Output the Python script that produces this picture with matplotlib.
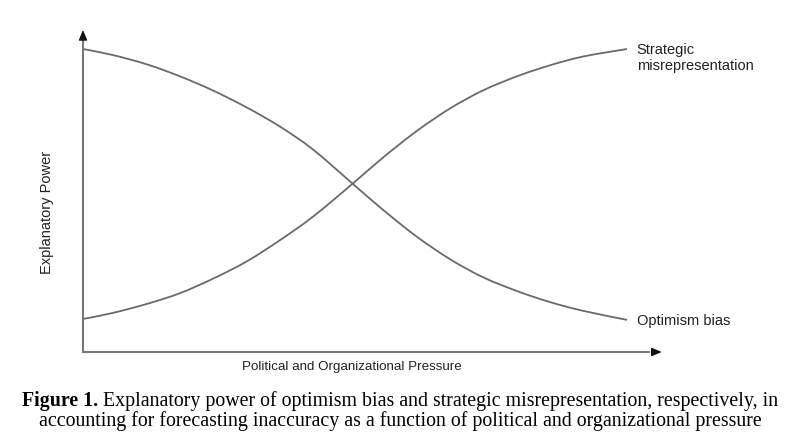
import matplotlib
matplotlib.use("Agg")
from matplotlib import pyplot as plt
from matplotlib.path import Path
from matplotlib.patches import PathPatch

# pressure (0-100) and explanatory power (0-100)
pressure = [0, 5.5, 11.8, 17.8, 23.9, 30.1, 36.2, 42.3, 49.6, 55.1, 61.4, 67.5, 73.5, 79.8, 85.8, 91.9, 100]
optimism_bias = [100, 98.0, 94.9, 91.0, 86.3, 80.7, 74.4, 66.8, 55.5, 47.0, 38.0, 30.6, 24.7, 20.1, 16.5, 13.6, 10.6]
strategic_misrep = [10.9, 12.9, 15.9, 19.4, 24.2, 29.9, 36.9, 44.7, 55.6, 64.1, 73.0, 80.4, 86.3, 91.0, 94.6, 97.5, 100]

line_color = '#6a6a6a'
sans = 'Liberation Sans'
serif = 'Liberation Serif'


def smooth_path(xs, ys):
    # catmull-rom through the points, as cubic bezier segments
    pts = list(zip(xs, ys))
    verts = [pts[0]]
    codes = [Path.MOVETO]
    for i in range(len(pts) - 1):
        p0 = pts[i - 1] if i > 0 else pts[i]
        p1 = pts[i]
        p2 = pts[i + 1]
        p3 = pts[i + 2] if i + 2 < len(pts) else pts[i + 1]
        c1 = (p1[0] + (p2[0] - p0[0]) / 6, p1[1] + (p2[1] - p0[1]) / 6)
        c2 = (p2[0] - (p3[0] - p1[0]) / 6, p2[1] - (p3[1] - p1[1]) / 6)
        verts += [c1, c2, p2]
        codes += [Path.CURVE4] * 3
    return Path(verts, codes)


fig = plt.figure(figsize=(8, 4.4), dpi=100)
# axes box: px 83..783 wide, py 352..10 tall
ax = fig.add_axes([83 / 800, 88 / 440, 700 / 800, 342 / 440])
ax.set_xlim(0, 700 / 5.44)
ax.set_ylim(0, 342 / 3.03)
ax.axis('off')

for ys in (optimism_bias, strategic_misrep):
    ax.add_patch(PathPatch(smooth_path(pressure, ys), fill=False, edgecolor=line_color,
                           lw=1.3, clip_on=False))

# gray axis lines, black arrow heads
ax.plot([0, 104], [0, 0], color='#777777', lw=1.5, clip_on=False)
ax.plot([0, 0], [0, 104], color='#777777', lw=1.5, clip_on=False)
arrow = dict(arrowstyle='-|>,head_length=0.6,head_width=0.25', color='#111111', lw=1.0,
             shrinkA=0, shrinkB=0)
ax.annotate('', xy=(106.4, 0), xytext=(104.5, 0), arrowprops=arrow, annotation_clip=False)
ax.annotate('', xy=(0, 106.3), xytext=(0, 104.5), arrowprops=arrow, annotation_clip=False)

ax.text(101.8, 97, 'Strategic\nmisrepresentation', family=sans, fontsize=10.5,
        color='#222222', va='center', ha='left', linespacing=1.25)
ax.text(101.8, 10.2, 'Optimism bias', family=sans, fontsize=10.5,
        color='#222222', va='center', ha='left')

fig.text(352 / 800, 1 - 367 / 440, 'Political and Organizational Pressure', family=sans,
         fontsize=9.6, color='#222222', ha='center', va='center')
fig.text(47 / 800, 1 - 212 / 440, 'Explanatory Power', family=sans, fontsize=10.5,
         color='#222222', ha='center', va='center', rotation=90)

# caption, first line has a bold lead-in
fig.canvas.draw()
r = fig.canvas.get_renderer()
cap_y1 = 1 - 401 / 440
b = fig.text(0, cap_y1, 'Figure 1.', family=serif, fontsize=14.3, fontweight='bold',
             ha='left', va='center')
rest = fig.text(0, cap_y1, ' Explanatory power of optimism bias and strategic misrepresentation, respectively, in',
                family=serif, fontsize=14.3, ha='left', va='center')
wb = b.get_window_extent(r).width
wr = rest.get_window_extent(r).width
x0 = (800 - wb - wr) / 2
b.set_x(x0 / 800)
rest.set_x((x0 + wb) / 800)
fig.text(0.5, 1 - 421 / 440,
         'accounting for forecasting inaccuracy as a function of political and organizational pressure',
         family=serif, fontsize=14.3, ha='center', va='center')

fig.savefig('out.png', dpi=100, facecolor='white')
